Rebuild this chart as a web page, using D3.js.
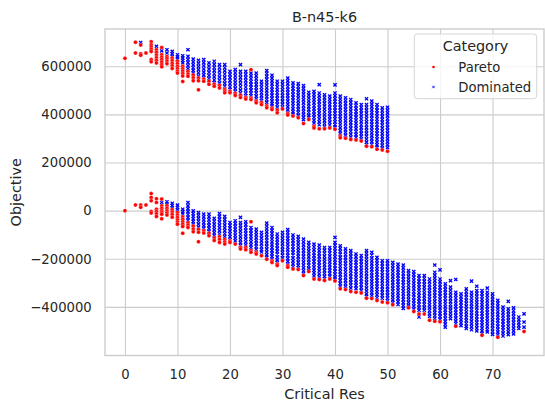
<!DOCTYPE html>
<html>
<head>
<meta charset="utf-8">
<script src="https://cdn.jsdelivr.net/npm/d3@7"></script>
<style>
  body { margin: 0; background: #fff; }
  svg { display: block; font-family: "DejaVu Sans", sans-serif; }
</style>
</head>
<body>
<div id="chart"></div>
<script>
// Data. Objective values are in thousands.
const categories = ["Pareto", "Dominated"];
const xTicks = [0, 10, 20, 30, 40, 50, 60, 70];
const yTicks = [-400000, -200000, 0, 200000, 400000, 600000];

// upper group: [critical res, objectives]
const paretoUpper = [
  [0,[633]], [2,[700,655]], [3,[688,652,646]], [4,[655]],
  [5,[702,690,681,671,662,628,619]], [6,[669,658,647,636,625,614]],
  [7,[678,648,638,628,618,607,598]], [8,[641,632,622,611]],
  [9,[634,624,613,602,591]], [10,[621,611,600,590,580,572]],
  [11,[600,590,580,570,560,537]], [12,[578,568,559]], [13,[564,552,540]],
  [14,[551,540,502]], [15,[547,538]], [16,[538,525]], [17,[525,517]],
  [18,[520,510]], [19,[505,497,490]], [20,[496,490]], [21,[487,479]],
  [22,[480,470]], [23,[470,464]], [24,[586,468,462]], [25,[455,448]],
  [26,[450,441]], [27,[436,428]], [28,[427,420]], [29,[418,407]],
  [30,[423]], [31,[405,398]], [32,[393]], [33,[386]], [34,[362]],
  [35,[379]], [36,[351,344]], [37,[340]], [38,[340]], [39,[344]],
  [40,[338]], [41,[310,303]], [42,[301]], [43,[296]], [44,[294]],
  [45,[289]], [46,[268]], [47,[266]], [48,[255]], [49,[252]], [50,[247]]
];

const dominatedUpper = [
  [3,[699]], [6,[683]], [7,[664]], [8,[669,655]], [9,[662,652,641]],
  [10,[648,639,630]], [11,[644,634,624,614]],
  [12,[669,641,628,615,602,590]], [13,[630,618,606,594,583,572]],
  [14,[625,612,599,586,573,560]], [15,[628,615,602,589,576,564,553]],
  [16,[614,601,588,575,562,549]], [17,[621,608,595,582,569,556,543,532]],
  [18,[607,594,581,568,555,542,530]], [19,[607,594,581,568,555,542,529,517]],
  [20,[579,566,553,540,527,514,503]], [21,[586,573,560,547,534,521,508,495]],
  [22,[607,579,566,553,540,527,514,501,489]],
  [23,[579,566,553,540,527,514,501,488,477]],
  [24,[572,560,548,536,524,512,500,488,477]],
  [25,[572,560,548,536,524,512,500,488,476,465]],
  [26,[538,526,514,502,490,478,466,456]],
  [27,[582,570,558,546,534,522,510,498,486,474,462,450]],
  [28,[563,551,539,527,515,503,491,479,467,455,444,435]],
  [29,[538,526,514,502,490,478,466,454,442,430]],
  [30,[538,526,514,502,490,478,466,454,442,430]],
  [31,[551,539,527,515,503,491,479,467,455,443,431,419,408]],
  [32,[531,519,507,495,483,471,459,447,435,423,411,401]],
  [33,[528,516,504,492,480,468,456,444,432,420,408,396]],
  [34,[520,508,496,484,472,460,448,436,424,412,400,388,378]],
  [35,[492,480,468,456,444,432,420,408,396,387]],
  [36,[496,484,472,460,448,436,424,412,400,388,376,364]],
  [37,[524,489,477,465,453,441,429,417,405,393,381,369,357]],
  [38,[482,470,458,446,434,422,410,398,386,374,362,350]],
  [39,[476,464,452,440,428,416,404,392,380,368,356]],
  [40,[523,489,477,465,453,441,429,417,405,393,381,369,357,347]],
  [41,[476,464,452,440,428,416,404,392,380,368,356,344,332,320]],
  [42,[469,457,445,433,421,409,397,385,373,361,349,337,325,313]],
  [43,[462,450,438,426,414,402,390,378,366,354,342,330,318,306]],
  [44,[448,436,424,412,400,388,376,364,352,340,328,316,305]],
  [45,[441,429,417,405,393,381,369,357,345,333,321,309,298]],
  [46,[465,441,429,417,405,393,381,369,357,345,333,321,309,297,285,274]],
  [47,[455,443,431,419,407,395,383,371,359,347,335,323,311,299,287,275]],
  [48,[441,429,417,405,393,381,369,357,345,333,321,309,297,285,273,263]],
  [49,[427,415,403,391,379,367,355,343,331,319,307,295,283,271,260]],
  [50,[430,418,406,394,382,370,358,346,334,322,310,298,286,274,262]]
];

// lower group
const paretoLower = [
  [0,[0]], [2,[24]], [3,[24,14]], [4,[24]], [5,[71,55,41,-3,-10]],
  [6,[50,34,6,-3,-13,-24]], [7,[48,20,10,0,-8,-15,-34]],
  [8,[20,10,0,-9,-18]], [9,[4,-6,-16,-27]], [10,[-8,-18,-28,-38,-47,-56]],
  [11,[-26,-36,-46,-56,-66,-94]], [12,[-50,-60,-70]], [13,[-64,-76,-88]],
  [14,[-78,-90,-129]], [15,[-84,-93]], [16,[-94,-104]], [17,[-114,-124]],
  [18,[-108,-120,-132]], [19,[-120,-130,-139]], [20,[-126,-132]],
  [21,[-139]], [22,[-152,-159]], [23,[-153,-162]], [24,[-46,-166,-173]],
  [25,[-173,-180]], [26,[-187]], [27,[-202]], [28,[-208,-215]],
  [29,[-222,-228]], [30,[-208]], [31,[-228,-235]], [32,[-242]],
  [33,[-245]], [34,[-270]], [35,[-253]], [36,[-284]], [37,[-286]],
  [38,[-290]], [39,[-284]], [40,[-292]], [41,[-325]], [42,[-328]],
  [43,[-336]], [44,[-339]], [45,[-342]], [46,[-364]], [47,[-365]],
  [48,[-373]], [49,[-380]], [50,[-383]], [51,[-391]], [54,[-404]],
  [55,[-419]], [56,[-429]], [57,[-429]], [58,[-456]], [59,[-460]],
  [60,[-462]], [63,[-480]], [68,[-518]], [71,[-526]], [76,[-502]]
];

const dominatedLower = [
  [7,[34]], [8,[37,27]], [9,[31,21,11]], [10,[23,13,3]], [11,[6,-4,-14]],
  [12,[34,20,8,-4,-16,-28,-40]], [13,[-1,-12,-23,-34,-45,-56]],
  [14,[-8,-20,-32,-44,-56,-68]], [15,[-14,-26,-38,-50,-62,-74]],
  [16,[-14,-26,-38,-50,-62,-74,-86]], [17,[-32,-44,-56,-68,-80,-92,-104]],
  [18,[-12,-24,-36,-48,-60,-72,-84,-96]],
  [19,[-24,-36,-48,-60,-72,-84,-96,-108]],
  [20,[-49,-61,-73,-85,-97,-109,-121]],
  [21,[-42,-54,-66,-78,-90,-102,-114,-126]],
  [22,[-28,-49,-61,-73,-85,-97,-109,-121,-133,-144]],
  [23,[-46,-58,-70,-82,-94,-106,-118,-130,-142]],
  [24,[-70,-82,-94,-106,-118,-130,-142,-154]],
  [25,[-77,-89,-101,-113,-125,-137,-149,-161]],
  [26,[-90,-102,-114,-126,-138,-150,-162,-172]],
  [27,[-52,-64,-76,-88,-100,-112,-124,-136,-148,-160,-172,-184,-194]],
  [28,[-70,-82,-94,-106,-118,-130,-142,-154,-166,-178,-190,-201]],
  [29,[-97,-109,-121,-133,-145,-157,-169,-181,-193,-205,-216]],
  [30,[-90,-102,-114,-126,-138,-150,-162,-174,-186,-197]],
  [31,[-79,-91,-103,-115,-127,-139,-151,-163,-175,-187,-199,-211,-222]],
  [32,[-101,-113,-125,-137,-149,-161,-173,-185,-197,-209,-221,-233]],
  [33,[-107,-119,-131,-143,-155,-167,-179,-191,-203,-215,-227,-238]],
  [34,[-118,-130,-142,-154,-166,-178,-190,-202,-214,-226,-238,-250,-261]],
  [35,[-132,-144,-156,-168,-180,-192,-204,-216,-228,-240,-249]],
  [36,[-139,-151,-163,-175,-187,-199,-211,-223,-235,-247,-259,-271]],
  [37,[-143,-155,-167,-179,-191,-203,-215,-227,-239,-251,-263,-275]],
  [38,[-153,-165,-177,-189,-201,-213,-225,-237,-249,-261,-273,-283]],
  [39,[-153,-165,-177,-189,-201,-213,-225,-237,-249,-261,-273]],
  [40,[-111,-132,-144,-156,-168,-180,-192,-204,-216,-228,-240,-252,-264,-276,-284]],
  [41,[-146,-158,-170,-182,-194,-206,-218,-230,-242,-254,-266,-278,-290,-302,-314]],
  [42,[-159,-171,-183,-195,-207,-219,-231,-243,-255,-267,-279,-291,-303,-315]],
  [43,[-166,-178,-190,-202,-214,-226,-238,-250,-262,-274,-286,-298,-310,-322]],
  [44,[-180,-192,-204,-216,-228,-240,-252,-264,-276,-288,-300,-312,-324]],
  [45,[-187,-199,-211,-223,-235,-247,-259,-271,-283,-295,-307,-319,-331]],
  [46,[-166,-178,-190,-202,-214,-226,-238,-250,-262,-274,-286,-298,-310,-322,-334,-346,-356]],
  [47,[-173,-185,-197,-209,-221,-233,-245,-257,-269,-281,-293,-305,-317,-329,-341,-353]],
  [48,[-194,-206,-218,-230,-242,-254,-266,-278,-290,-302,-314,-326,-338,-350,-362]],
  [49,[-208,-220,-232,-244,-256,-268,-280,-292,-304,-316,-328,-340,-352,-364]],
  [50,[-208,-220,-232,-244,-256,-268,-280,-292,-304,-316,-328,-340,-352,-364,-375]],
  [51,[-215,-227,-239,-251,-263,-275,-287,-299,-311,-323,-335,-347,-359,-371,-382]],
  [52,[-222,-234,-246,-258,-270,-282,-294,-306,-318,-330,-342,-354,-366,-378,-390]],
  [53,[-226,-238,-250,-262,-274,-286,-298,-310,-322,-334,-346,-358,-370,-382,-394,-406]],
  [54,[-249,-261,-273,-285,-297,-309,-321,-333,-345,-357,-369,-381,-393,-401]],
  [55,[-253,-265,-277,-289,-301,-313,-325,-337,-349,-361,-373,-385,-397,-409]],
  [56,[-270,-282,-294,-306,-318,-330,-342,-354,-366,-378,-390,-402,-414,-442]],
  [57,[-270,-282,-294,-306,-318,-330,-342,-354,-366,-378,-390,-402,-414]],
  [58,[-284,-296,-308,-320,-332,-344,-356,-368,-380,-392,-404,-416,-428,-440]],
  [59,[-226,-256,-268,-280,-292,-304,-316,-328,-340,-352,-364,-376,-388,-400,-412,-424,-436,-448]],
  [60,[-246,-284,-296,-308,-320,-332,-344,-356,-368,-380,-392,-404,-416,-428,-440,-452]],
  [61,[-304,-316,-328,-340,-352,-364,-376,-388,-400,-412,-424,-436,-448,-460,-472,-484]],
  [62,[-291,-318,-330,-342,-354,-366,-378,-390,-402,-414,-426,-438,-449]],
  [63,[-286,-339,-351,-363,-375,-387,-399,-411,-423,-435,-447,-459,-470]],
  [64,[-346,-358,-370,-382,-394,-406,-418,-430,-442,-454,-466,-478]],
  [65,[-325,-337,-349,-361,-373,-385,-397,-409,-421,-433,-445,-457,-469,-481,-490]],
  [66,[-293,-339,-351,-363,-375,-387,-399,-411,-423,-435,-447,-459,-471,-483,-495]],
  [67,[-314,-332,-344,-356,-368,-380,-392,-404,-416,-428,-440,-452,-464,-476,-488,-500]],
  [68,[-332,-344,-356,-368,-380,-392,-404,-416,-428,-440,-452,-464,-476,-488,-500,-511]],
  [69,[-322,-339,-351,-363,-375,-387,-399,-411,-423,-435,-447,-459,-471,-483,-495,-504]],
  [70,[-346,-358,-370,-382,-394,-406,-418,-430,-442,-454,-466,-478,-490,-502,-514]],
  [71,[-373,-385,-397,-409,-421,-433,-445,-457,-469,-481,-493,-505,-516]],
  [72,[-401,-413,-425,-437,-449,-461,-473,-485,-497,-509,-521]],
  [73,[-377,-408,-420,-432,-444,-456,-468,-480,-492,-504,-515]],
  [74,[-404,-416,-428,-440,-452,-464,-476,-488,-500,-512]],
  [75,[-442,-454,-466,-478,-490]],
  [76,[-429,-463,-484]]
];

// Set up dimensions
const width = 545;
const height = 407;
const margin = { top: 29, right: 1, bottom: 51.5, left: 105 };
const plotW = width - margin.left - margin.right;
const plotH = height - margin.top - margin.bottom;
const textColor = "#262626";
const gridColor = "#cccccc";

// long format, one row per point
function flatten(rows, category) {
    return rows.flatMap(([res, vals]) => vals.map(v => ({ res, obj: v * 1000, category })));
}
const dominated = flatten(dominatedUpper, "Dominated").concat(flatten(dominatedLower, "Dominated"));
const pareto = flatten(paretoUpper, "Pareto").concat(flatten(paretoLower, "Pareto"));

const color = d3.scaleOrdinal().domain(categories).range(["red", "blue"]);

const x = d3.scaleLinear().domain([-3.8, 79.8]).range([margin.left, width - margin.right]);
const y = d3.scaleLinear().domain([-602000, 755000]).range([height - margin.bottom, margin.top]);

const svg = d3.select("#chart")
    .append("svg")
    .attr("width", width)
    .attr("height", height);

// axes double as grid lines (seaborn whitegrid)
const xAxis = svg.append("g")
    .attr("transform", `translate(0, ${height - margin.bottom})`)
    .call(d3.axisBottom(x).tickValues(xTicks).tickSizeInner(-plotH).tickSizeOuter(0).tickPadding(14.1));

const yAxis = svg.append("g")
    .attr("transform", `translate(${margin.left}, 0)`)
    .call(d3.axisLeft(y).tickValues(yTicks).tickFormat(d3.format("d"))
        .tickSizeInner(-plotW).tickSizeOuter(0).tickPadding(13.3));

[xAxis, yAxis].forEach(g => {
    g.select(".domain").remove();
    g.selectAll(".tick line").attr("stroke", gridColor).attr("stroke-width", 1.1);
    g.selectAll(".tick text")
        .attr("fill", textColor)
        .style("font-size", "13.2px")
        .style("font-family", "'DejaVu Sans', sans-serif");
});

// points: dominated first, pareto on top
const cross = 1.6;
svg.append("g")
    .selectAll("path")
    .data(dominated)
    .join("path")
    .attr("d", d => {
        const cx = x(d.res), cy = y(d.obj);
        return `M${cx - cross},${cy - cross}L${cx + cross},${cy + cross}M${cx - cross},${cy + cross}L${cx + cross},${cy - cross}`;
    })
    .attr("stroke", d => color(d.category))
    .attr("stroke-width", 1.3)
    .attr("fill", "none");

svg.append("g")
    .selectAll("circle")
    .data(pareto)
    .join("circle")
    .attr("cx", d => x(d.res))
    .attr("cy", d => y(d.obj))
    .attr("r", 2)
    .attr("fill", d => color(d.category))
    .attr("stroke", "white")
    .attr("stroke-width", 0.3);

// spines
svg.append("rect")
    .attr("x", margin.left)
    .attr("y", margin.top)
    .attr("width", plotW)
    .attr("height", plotH)
    .attr("fill", "none")
    .attr("stroke", gridColor)
    .attr("stroke-width", 1.4);

// title + axis labels
svg.append("text")
    .attr("x", margin.left + plotW / 2)
    .attr("y", 21.5)
    .attr("text-anchor", "middle")
    .attr("fill", textColor)
    .style("font-size", "14.4px")
    .text("B-n45-k6");

svg.append("text")
    .attr("x", margin.left + plotW / 2)
    .attr("y", 399)
    .attr("text-anchor", "middle")
    .attr("fill", textColor)
    .style("font-size", "14.4px")
    .text("Critical Res");

svg.append("text")
    .attr("transform", `translate(21, ${margin.top + plotH / 2}) rotate(-90)`)
    .attr("text-anchor", "middle")
    .attr("fill", textColor)
    .style("font-size", "14.4px")
    .text("Objective");

// legend
const legend = svg.append("g");
legend.append("rect")
    .attr("x", 414.3)
    .attr("y", 34)
    .attr("width", 122.4)
    .attr("height", 64.7)
    .attr("rx", 3)
    .attr("fill", "white")
    .attr("fill-opacity", 0.8)
    .attr("stroke", "#d6d6d6")
    .attr("stroke-width", 1);

legend.append("text")
    .attr("x", 475.5)
    .attr("y", 50.5)
    .attr("text-anchor", "middle")
    .attr("fill", textColor)
    .style("font-size", "14.4px")
    .text("Category");

const items = legend.selectAll("g.item")
    .data(categories)
    .join("g")
    .attr("class", "item")
    .attr("transform", (d, i) => `translate(433.5, ${67 + i * 20})`);

items.filter(d => d === "Pareto").append("circle")
    .attr("r", 1.3)
    .attr("fill", d => color(d));

items.filter(d => d === "Dominated").append("path")
    .attr("d", "M-1.2,-1.2L1.2,1.2M-1.2,1.2L1.2,-1.2")
    .attr("stroke", d => color(d))
    .attr("stroke-width", 0.9);

items.append("text")
    .attr("x", 24.8)
    .attr("y", 5)
    .attr("fill", textColor)
    .style("font-size", "13.2px")
    .text(d => d);
</script>
</body>
</html>
